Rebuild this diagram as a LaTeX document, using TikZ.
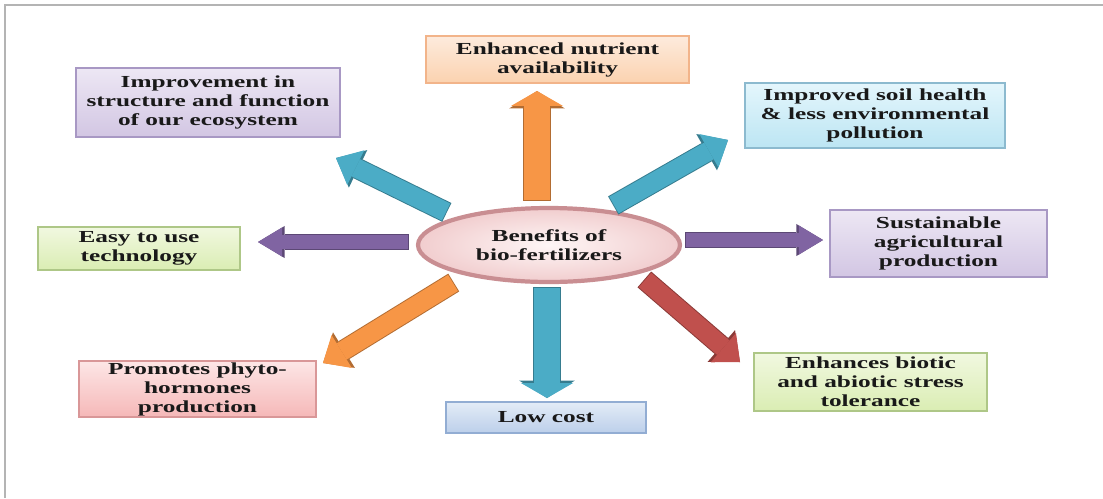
\documentclass[tikz,border=0pt]{standalone}
\usepackage{fontspec}
\setmainfont{Liberation Serif}[FakeStretch=1.5]
\usepackage{tikz}
\usetikzlibrary{arrows.meta, shapes.geometric, shadows}

\definecolor{tealA}{HTML}{4BACC6}
\definecolor{orangeA}{HTML}{F79646}
\definecolor{purpleA}{HTML}{8064A2}
\definecolor{redA}{HTML}{C0504D}
\definecolor{peachT}{HTML}{FDEBDD}
\definecolor{peachB}{HTML}{FBD2AF}
\definecolor{peachD}{HTML}{F2B48A}
\definecolor{lilacT}{HTML}{EDE7F4}
\definecolor{lilacB}{HTML}{D2C6E3}
\definecolor{lilacD}{HTML}{A898C4}
\definecolor{cyanT}{HTML}{E4F6FC}
\definecolor{cyanB}{HTML}{BCE5F3}
\definecolor{cyanD}{HTML}{8CBACF}
\definecolor{greenT}{HTML}{F1F8E0}
\definecolor{greenB}{HTML}{DAEDB3}
\definecolor{greenD}{HTML}{AEC787}
\definecolor{pinkT}{HTML}{FDE6E6}
\definecolor{pinkB}{HTML}{F5B8B8}
\definecolor{pinkD}{HTML}{D99798}
\definecolor{blueT}{HTML}{E3ECF7}
\definecolor{blueB}{HTML}{BCCFEA}
\definecolor{blueD}{HTML}{92ADD3}
\definecolor{roseD}{HTML}{C98E92}
\definecolor{roseT}{HTML}{FEF6F6}
\definecolor{roseB}{HTML}{F1CDCE}
\definecolor{frameG}{HTML}{B4B4B4}

\tikzset{
  label/.style={font=\bfseries\fontsize{9.6}{10.8}\selectfont, text=black!90, align=center, inner sep=0pt},
  box/.style n args={3}{label, rectangle, draw=#1, line width=0.8pt, top color=#2, bottom color=#3,
    drop shadow={shadow xshift=0.6pt, shadow yshift=-0.8pt, opacity=0.25}},
  hub/.style={label, ellipse, draw=roseD, line width=2.4pt, inner color=roseT, outer color=roseB},
  varrow/.style={draw=#1, line width=14.8pt, -{Triangle[width=29.6pt,length=8.5pt,line width=0pt]},
    preaction={draw=#1!72!black, line width=15.9pt, shorten <=-0.5pt,
      -{Triangle[width=31.6pt,length=9.9pt,line width=0pt]}}},
  harrow/.style={draw=#1, line width=8.5pt, -{Triangle[width=16.5pt,length=13.7pt,line width=0pt]},
    preaction={draw=#1!72!black, line width=9.6pt, shorten <=-0.5pt,
      -{Triangle[width=18.3pt,length=15.2pt,line width=0pt]}}},
  darrow/.style={draw=#1, line width=10.8pt, -{Triangle[width=22pt,length=12.5pt,line width=0pt]},
    preaction={draw=#1!72!black, line width=11.9pt, shorten <=-0.5pt,
      -{Triangle[width=23.8pt,length=14pt,line width=0pt]}}}
}

\begin{document}
\begin{tikzpicture}[x=0.02cm, y=-0.02cm]
        \useasboundingbox (0,0) rectangle (1103,498);
        \draw[frameG, line width=0.8pt] (5,498) -- (5,5) -- (1103,5);

        \node[hub, minimum width=5.24cm, minimum height=1.48cm] (benefits) at (549,245) {Benefits of\\bio-fertilizers};

        \node[box={peachD}{peachT}{peachB}, minimum width=5.26cm, minimum height=0.94cm] (nutrient) at (557.5,59.5) {Enhanced nutrient\\availability};
        \node[box={lilacD}{lilacT}{lilacB}, minimum width=5.28cm, minimum height=1.38cm] (ecosys) at (208,102.5) {Improvement in\\structure and function\\of our ecosystem};
        \node[box={cyanD}{cyanT}{cyanB}, minimum width=5.2cm, minimum height=1.3cm] (soil) at (875,115.5) {Improved soil health\\\& less environmental\\pollution};
        \node[box={greenD}{greenT}{greenB}, minimum width=4.04cm, minimum height=0.86cm] (easy) at (139,248.5) {Easy to use\\technology};
        \node[box={lilacD}{lilacT}{lilacB}, minimum width=4.34cm, minimum height=1.34cm] (sustain) at (938.5,243.5) {Sustainable\\agricultural\\production};
        \node[box={pinkD}{pinkT}{pinkB}, minimum width=4.74cm, minimum height=1.12cm] (phyto) at (197.5,389) {Promotes phyto-\\hormones\\production};
        \node[box={blueD}{blueT}{blueB}, minimum width=4cm, minimum height=0.62cm] (cost) at (546,417.5) {Low cost};
        \node[box={greenD}{greenT}{greenB}, minimum width=4.66cm, minimum height=1.16cm] (stress) at (870.5,382) {Enhances biotic\\and abiotic stress\\tolerance};

        \coordinate (nutrient-a) at (537,200);
        \coordinate (nutrient-b) at (537,91);
        \coordinate (ecosys-a) at (446,212);
        \coordinate (ecosys-b) at (336,158);
        \coordinate (soil-a) at (614,205);
        \coordinate (soil-b) at (728,140);
        \coordinate (easy-a) at (408,242);
        \coordinate (easy-b) at (258,242);
        \coordinate (sustain-a) at (686,240);
        \coordinate (sustain-b) at (823,240);
        \coordinate (phyto-a) at (453,283);
        \coordinate (phyto-b) at (323,363);
        \coordinate (cost-a) at (547,288);
        \coordinate (cost-b) at (547,398);
        \coordinate (stress-a) at (645,280);
        \coordinate (stress-b) at (740,362);

        \draw[varrow=orangeA] (nutrient-a) -- (nutrient-b);
        \draw[darrow=tealA] (ecosys-a) -- (ecosys-b);
        \draw[darrow=tealA] (soil-a) -- (soil-b);
        \draw[harrow=purpleA] (easy-a) -- (easy-b);
        \draw[harrow=purpleA] (sustain-a) -- (sustain-b);
        \draw[darrow=orangeA] (phyto-a) -- (phyto-b);
        \draw[varrow=tealA] (cost-a) -- (cost-b);
        \draw[darrow=redA] (stress-a) -- (stress-b);
\end{tikzpicture}
\end{document}
